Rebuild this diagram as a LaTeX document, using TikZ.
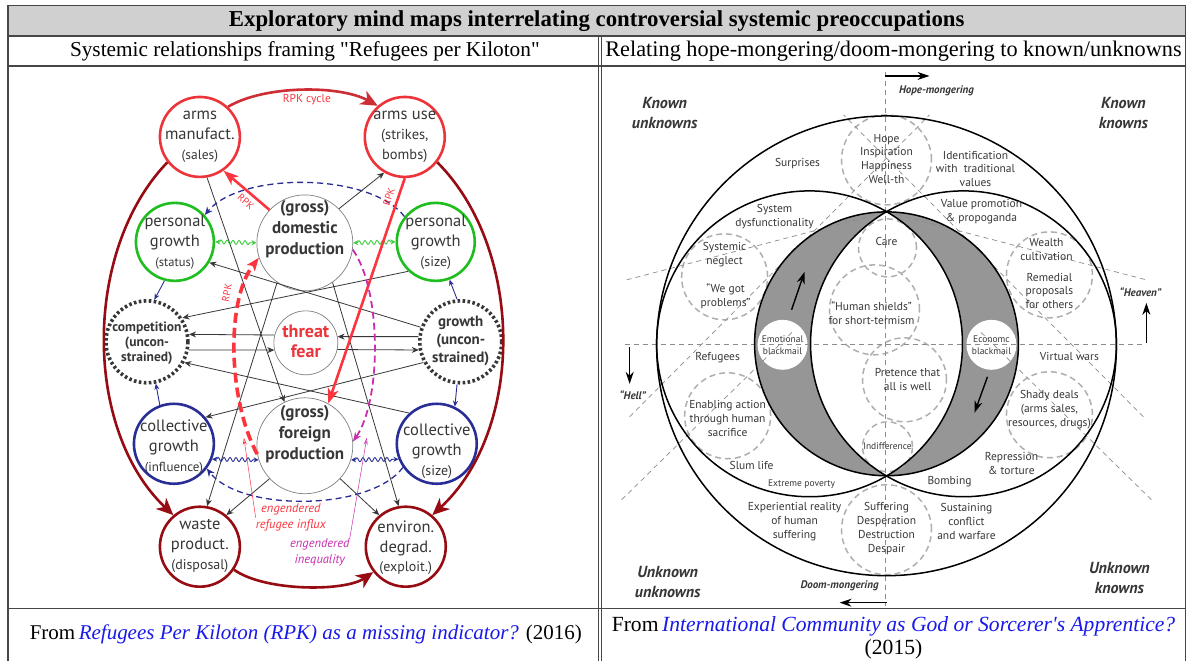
\documentclass[tikz,border=0pt]{standalone}
\usepackage{fontspec}
\setmainfont{Liberation Serif}[Ligatures=TeXOff]
\newfontfamily\mapfont{PT Sans}
\usetikzlibrary{arrows.meta,decorations.pathmorphing}
\definecolor{ringred}{RGB}{236,52,58}
\definecolor{ringgreen}{RGB}{30,190,30}
\definecolor{wavegreen}{RGB}{60,205,60}
\definecolor{ringblue}{RGB}{40,46,150}
\definecolor{cyclered}{RGB}{150,12,18}
\definecolor{topred}{RGB}{205,45,52}
\definecolor{rpkred}{RGB}{252,52,62}
\definecolor{ineqmagenta}{RGB}{200,45,175}
\definecolor{inkgray}{RGB}{55,55,55}
\definecolor{headgray}{RGB}{208,208,208}
\definecolor{rulegray}{RGB}{70,70,70}
\definecolor{lunegray}{RGB}{150,150,150}
\definecolor{guidegray}{RGB}{140,140,140}
\definecolor{zonegray}{RGB}{175,175,175}
\definecolor{linkblue}{RGB}{25,25,235}

\newcommand{\setfs}[2]{\fontsize{#1}{#2}\selectfont}

\begin{document}
\begin{tikzpicture}[x=1pt, y=-1pt,
  rule/.style={rulegray, line width=1.3pt},
  % left map
  ring/.style={circle, inner sep=0pt, line width=2.6pt},
  redring/.style={ring, draw=ringred, minimum size=80pt},
  greenring/.style={ring, draw=ringgreen, minimum size=78pt},
  bluering/.style={ring, draw=ringblue, minimum size=80pt},
  darkring/.style={ring, draw=cyclered, minimum size=80pt},
  dotring/.style={ring, draw=inkgray, line width=3.6pt,
    dash pattern=on 2.6pt off 2.4pt, minimum size=82pt},
  hubring/.style={circle, inner sep=0pt, draw=gray, line width=0.7pt},
  ringtext/.style={font=\mapfont\setfs{16.5}{20}, text=inkgray, align=center, inner sep=0pt},
  hubtext/.style={font=\mapfont\bfseries\setfs{17}{21}, text=inkgray, align=center, inner sep=0pt},
  link/.style={-{Stealth[length=7pt,width=6pt]}, inkgray, line width=0.8pt},
  cyclearc/.style={-{Stealth[length=17pt,width=15pt,inset=5pt]}, cyclered, line width=2.6pt},
  rpk/.style={-{Stealth[length=15pt,width=11pt,inset=4pt]}, rpkred, line width=2.6pt},
  rpkdash/.style={-{Stealth[length=13pt,width=10pt,inset=3pt]}, rpkred, line width=3.6pt,
    dash pattern=on 10pt off 5pt},
  ineqdash/.style={-{Stealth[length=9pt,width=7pt]}, ineqmagenta, line width=1.8pt,
    dash pattern=on 7pt off 4pt},
  rpklabel/.style={font=\mapfont\setfs{10}{11}, text=rpkred, inner sep=1pt},
  wavy/.style={{Stealth[length=5pt,width=5pt]}-{Stealth[length=5pt,width=5pt]}, line width=0.9pt,
    decorate, decoration={snake, amplitude=2pt, segment length=6pt, pre length=4pt, post length=4pt}},
  bluedash/.style={-{Stealth[length=8pt,width=7pt]}, ringblue, line width=1.3pt,
    dash pattern=on 6pt off 4pt},
  bluestep/.style={-{Stealth[length=6pt,width=5pt]}, ringblue, line width=0.9pt},
  note/.style={font=\mapfont\itshape\setfs{12.5}{16}, align=center, inner sep=0pt},
  pointer/.style={-{Stealth[length=7pt,width=4pt,open]}, line width=0.5pt},
  % right map
  bigline/.style={black, line width=1.5pt},
  guide/.style={guidegray, line width=0.7pt, dash pattern=on 5pt off 4pt},
  zone/.style={zonegray, line width=1.5pt, dash pattern=on 6pt off 4pt},
  tag/.style={font=\mapfont\setfs{11.5}{13.8}, text=inkgray, align=center, inner sep=0pt},
  smalltag/.style={tag, font=\mapfont\setfs{9.5}{12}},
  blackmail/.style={circle, fill=white, minimum size=50pt, inner sep=0pt,
    font=\mapfont\setfs{9.5}{12}, text=inkgray, align=center},
  corner/.style={font=\mapfont\bfseries\itshape\setfs{16}{20}, text=inkgray, align=center, inner sep=0pt},
  pole/.style={font=\mapfont\bfseries\itshape\setfs{11}{13}, text=inkgray, inner sep=0pt},
  polearrow/.style={-{Stealth[length=12pt,width=8pt]}, line width=1.4pt},
  lunearrow/.style={-{Stealth[length=12pt,width=8pt]}, line width=1.4pt},
]

\fill[white] (0,0) rectangle (1187,661);

% -------------------------------------------------------------------------
% Table frame
% -------------------------------------------------------------------------
\fill[headgray] (8,6) rectangle (1187,36);
\draw[rule] (8,5.5) -- (1187,5.5);
\draw[rule] (8,36) -- (1187,36);
\draw[rule] (8,66) -- (1187,66);
\draw[rule] (8,609) -- (1187,609);
\draw[rule] (8,5.5) -- (8,661);
\draw[rule] (1186,5.5) -- (1186,661);
\draw[rule, line width=1pt] (598.5,36) -- (598.5,661);
\draw[rule, line width=1pt] (602,36) -- (602,661);

\node[font=\bfseries\setfs{22.8}{24}] (title) at (597,21)
  {Exploratory mind maps interrelating controversial systemic preoccupations};
\node[font=\setfs{21.3}{24}] (lefthead) at (305,51)
  {Systemic relationships framing "Refugees per Kiloton"};
\node[font=\setfs{22.3}{24}] (righthead) at (894,51)
  {Relating hope-mongering/doom-mongering to known/unknowns};
\node[font=\setfs{21}{24}] (leftsource) at (306,635)
  {From\,{\color{linkblue}\itshape Refugees Per Kiloton (RPK) as a missing indicator?} (2016)};
\node[font=\setfs{21.6}{23}, align=center] (rightsource) at (894,638)
  {From\,{\color{linkblue}\itshape International Community as God or Sorcerer's Apprentice?}\\(2015)};

% -------------------------------------------------------------------------
% Left map: Refugees per Kiloton
% -------------------------------------------------------------------------
\node[redring] (manuf) at (200,137) {};
\node[redring] (armsuse) at (405,137) {};
\node[greenring] (pstatus) at (175,242) {};
\node[greenring] (psize) at (436,242) {};
\node[hubring, minimum size=96pt] (gdp) at (305,243) {};
\node[dotring] (compet) at (147,342) {};
\node[hubring, minimum size=64pt] (threat) at (306,343) {};
\node[dotring] (growth) at (461,342) {};
\node[bluering] (cinfl) at (174,444) {};
\node[hubring, minimum size=96pt] (gfp) at (305,446) {};
\node[bluering] (csize) at (437,444) {};
\node[darkring] (waste) at (200,547) {};
\node[darkring] (environ) at (406,547) {};

\node[ringtext] (manuf-t) at (200,137) {arms\\manufact.\\{\setfs{13.5}{20}(sales)}};
\node[ringtext] (armsuse-t) at (405,137) {arms use\\{\setfs{14.5}{19}(strikes,}\\{\setfs{14.5}{19}bombs)}};
\node[ringtext] (pstatus-t) at (175,242) {personal\\growth\\{\setfs{12.5}{18}(status)}};
\node[ringtext] (psize-t) at (436,242) {personal\\growth\\{\setfs{14}{18}(size)}};
\node[hubtext] (gdp-t) at (305,229) {(gross)\\domestic\\production};
\node[hubtext, font=\mapfont\bfseries\setfs{13.5}{15}] (compet-t) at (147,343) {competition\\(uncon-\\strained)};
\node[hubtext, text=ringred, font=\mapfont\bfseries\setfs{18}{20}] (threat-t) at (306,342) {threat\\fear};
\node[hubtext, font=\mapfont\bfseries\setfs{15}{18}] (growth-t) at (461,341) {growth\\(uncon-\\strained)};
\node[ringtext] (cinfl-t) at (174,447) {collective\\growth\\{\setfs{13}{18}(influence)}};
\node[hubtext] (gfp-t) at (305,434) {(gross)\\foreign\\production};
\node[ringtext] (csize-t) at (437,451) {collective\\growth\\{\setfs{14}{18}(size)}};
\node[ringtext] (waste-t) at (200,546) {waste\\product.\\{\setfs{14}{19}(disposal)}};
\node[ringtext] (environ-t) at (406,548) {environ.\\degrad.\\{\setfs{14}{19}(exploit.)}};

% outer RPK cycle
\draw[cyclearc] (manuf.-142) .. controls (83,250) and (83,430) .. (waste.130);
\draw[cyclearc] (armsuse.-38) .. controls (525,250) and (525,430) .. (environ.50);
\draw[cyclearc] (waste.-34) .. controls (265,592) and (345,592) .. (environ.-142);
\draw[cyclearc, topred] (manuf.47) .. controls (265,85) and (340,85) .. (armsuse.131);
\node[rpklabel, font=\mapfont\setfs{11.5}{12}] (cyclelabel) at (307,100) {RPK cycle};

% plain influences
\draw[link] (manuf.-80) -- (gfp.115);
\draw[link] (gdp.-125) -- (waste.80);
\draw[link] (gdp.-55) -- (environ.100);
\draw[link] (gdp.45) -- (armsuse.-120);
\draw[link] (gfp.-137) -- (waste.50);
\draw[link] (gfp.-43) -- (environ.130);
\draw[link] (growth.160) -- (pstatus.-31);
\draw[link] (psize.-133) -- (compet.34);
\draw[link] (threat.166) -- (compet.10);
\draw[link] (compet.-11) -- (threat.-167);
\draw[link] (growth.173) -- (threat.11);
\draw[link] (threat.-12) -- (growth.-169);
\draw[link] (growth.-151) -- (cinfl.40);
\draw[link] (csize.132) -- (compet.-29);

% growth feedback
\draw[bluestep] (pstatus.-105) -- (compet.80);
\draw[bluestep] (cinfl.110) -- (compet.-78);
\draw[bluestep] (growth.95) -- (psize.-70);
\draw[bluestep] (growth.-95) -- (csize.64);
\draw[bluedash] (psize.141) .. controls (370,172) and (240,172) .. (pstatus.42);
\draw[bluedash] (csize.-145) .. controls (370,512) and (240,512) .. (cinfl.-37);
\draw[wavy, wavegreen] (pstatus.east) -- (gdp.west);
\draw[wavy, wavegreen] (gdp.east) -- (psize.west);
\draw[wavy, ringblue] (cinfl.-22) -- (gfp.-163);
\draw[wavy, ringblue] (gfp.-17) -- (csize.-158);

% RPK paths
\draw[rpk] (gdp.137) -- (manuf.-55);
\draw[rpk] (armsuse.-90) -- (gfp.61);
\draw[rpkdash] (gfp.-170) .. controls (228,400) and (226,300) .. (gdp.-162);
\draw[ineqdash] (gdp.-8) .. controls (382,290) and (382,400) .. (gfp.5);
\node[rpklabel, rotate=-40] (rpk-a) at (246,202) {RPK};
\node[rpklabel, rotate=71] (rpk-b) at (389,197) {RPK};
\node[rpklabel, rotate=79] (rpk-c) at (227,293) {RPK};

\node[note, text=rpkred] (influx) at (291,518) {engendered\\refugee influx};
\node[note, text=ineqmagenta] (inequal) at (320,553) {engendered\\inequality};
\coordinate (influxtip) at (244,438);
\coordinate (inequaltip) at (367,438);
\draw[pointer, rpkred] (influx.west) -- (influxtip);
\draw[pointer, ineqmagenta] (inequal.north east) -- (inequaltip);

% -------------------------------------------------------------------------
% Right map: hope-mongering / doom-mongering
% -------------------------------------------------------------------------
\coordinate (hub) at (887,344);
\coordinate (lc) at (810,344);
\coordinate (rc) at (964,344);

% gray lunes: middle disc minus the lens
\fill[lunegray] (hub) circle (132pt);
\begin{scope}
  \clip (lc) circle (153pt);
  \fill[white] (rc) circle (153pt);
\end{scope}

\node[blackmail] (emoblack) at (783,345) {Emotional\\blackmail};
\node[blackmail] (ecoblack) at (992,345) {Economc\\blackmail};

% dashed zones
\draw[zone] (887,160) circle (45pt);
\draw[zone] (888,248) circle (29pt);
\draw[zone] (875,310) circle (45pt);
\draw[zone] (905,380) circle (42pt);
\draw[zone] (888,447) circle (25pt);
\draw[zone] (887,530) circle (45pt);
\draw[zone] (725,277) circle (43pt);
\draw[zone] (728,416) circle (43pt);
\draw[zone] (1050,275) circle (43pt);
\draw[zone] (1050,415) circle (43pt);

% guide lines
\draw[guide] (886,72) -- (886,606);
\draw[guide] (625,345) -- (1147,345);
\draw[guide] (627,280) -- (887,212) -- (1147,280);
\draw[guide] (630,417) -- (930,115);
\draw[guide] (1144,417) -- (844,115);
\draw[guide] (622,500) -- (795,330);
\draw[guide] (1152,500) -- (979,330);

\draw[bigline] (887,346) circle (230pt);
\draw[bigline] (hub) circle (132pt);
\draw[bigline] (lc) circle (153pt);
\draw[bigline] (rc) circle (153pt);

\draw[lunearrow] (792,310) -- (805,272);
\draw[lunearrow] (988,377) -- (975,413);

\node[corner] (knownunknowns) at (665,113) {Known\\unknowns};
\node[corner] (knownknowns) at (1124,113) {Known\\knowns};
\node[corner] (unknownunknowns) at (668,582) {Unknown\\unknowns};
\node[corner] (unknownknowns) at (1120,578) {Unknown\\knowns};

\node[pole] (hopelabel) at (937,91) {Hope-mongering};
\node[pole] (doomlabel) at (840,586) {Doom-mongering};
\node[pole] (hell) at (633,395) {“Hell”};
\node[pole] (heaven) at (1141,292) {“Heaven”};
\draw[polearrow, line width=1.2pt] (885,76) -- (930,76);
\draw[polearrow, line width=1.2pt] (887,603) -- (840,603);
\draw[polearrow] (630,347) -- (630,384);
\draw[polearrow] (1147,343) -- (1147,303);

\node[tag] (surprises) at (798,164) {Surprises};
\node[tag] (hope) at (887,159) {Hope\\Inspiration\\Happiness\\Well-th};
\node[tag] (identity) at (976,169) {Identification\\with\ \ traditional\\values};
\node[tag] (dysfunc) at (775,217) {System\\dysfunctionality};
\node[tag] (promotion) at (982,212) {Value promotion\\\& propoganda};
\node[tag] (care) at (887,242) {Care};
\node[tag] (neglect) at (725,255) {Systemic\\neglect};
\node[tag] (problems) at (726,296) {“We got\\problems”};
\node[tag] (wealth) at (1047,250) {Wealth\\cultivation};
\node[tag] (remedial) at (1050,291) {Remedial\\proposals\\for others};
\node[tag] (shields) at (872,313) {“Human shields”\\for short-termism};
\node[tag] (pretence) at (908,380) {Pretence that\\all is well};
\node[tag] (refugees) at (718,358) {Refugees};
\node[tag] (virtual) at (1070,357) {Virtual wars};
\node[tag] (enabling) at (728,419) {Enabling action\\through human\\sacrifice};
\node[tag] (shady) at (1050,410) {Shady deals\\(arms sales,\\resources, drugs)};
\node[smalltag] (indiff) at (888,446) {Indifference};
\node[tag] (slum) at (752,466) {Slum life};
\node[smalltag] (poverty) at (802,484) {Extreme poverty};
\node[tag] (repression) at (1012,464) {Repression\\\& torture};
\node[tag] (bombing) at (950,482) {Bombing};
\node[tag] (experience) at (795,522) {Experiential reality\\of human\\suffering};
\node[tag] (suffering) at (887,529) {Suffering\\Desperation\\Destruction\\Despair};
\node[tag] (sustaining) at (967,522) {Sustaining\\conflict\\and warfare};

\end{tikzpicture}
\end{document}
